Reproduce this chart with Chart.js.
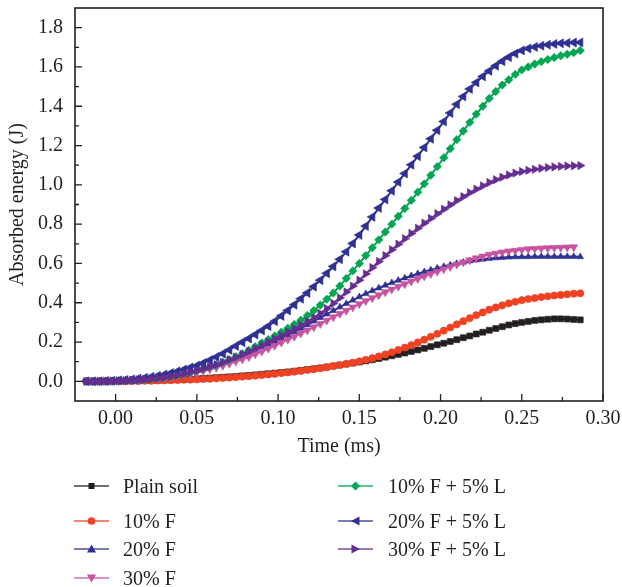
<!DOCTYPE html>
<html><head><meta charset="utf-8">
<script src="https://cdn.jsdelivr.net/npm/chart.js@4/dist/chart.umd.min.js"></script>
<style>
body{margin:0;background:#fff;}
#wrap{position:relative;width:622px;height:587px;}
#legend{position:absolute;left:0;top:0;width:622px;height:587px;pointer-events:none;font-family:"Liberation Serif","DejaVu Serif",serif;font-size:20px;color:#231f20;}
.sw{position:absolute;width:36px;height:20px;}
.lt{position:absolute;height:24px;line-height:24px;white-space:nowrap;}
</style></head>
<body><div id="wrap"><canvas id="c"></canvas><div id="legend"></div></div>
<script>
const time = [-0.018,-0.014,-0.010,-0.006,-0.002,0.002,0.006,0.010,0.014,0.018,0.022,0.026,0.030,0.034,0.038,0.042,0.046,0.050,0.054,0.058,0.062,0.066,0.070,0.074,0.078,0.082,0.086,0.090,0.094,0.098,0.102,0.106,0.110,0.114,0.118,0.122,0.126,0.130,0.134,0.138,0.142,0.146,0.150,0.154,0.158,0.162,0.166,0.170,0.174,0.178,0.182,0.186,0.190,0.194,0.198,0.202,0.206,0.210,0.214,0.218,0.222,0.226,0.230,0.234,0.238,0.242,0.246,0.250,0.254,0.258,0.262,0.266,0.270,0.274,0.278,0.282,0.286];

const plainSoil = [0,0,0,0,0.001,0.001,0.002,0.002,0.003,0.004,0.004,0.005,0.006,0.007,0.008,0.010,0.011,0.013,0.015,0.017,0.019,0.021,0.023,0.025,0.028,0.030,0.033,0.036,0.039,0.042,0.045,0.048,0.052,0.056,0.060,0.064,0.068,0.073,0.078,0.083,0.088,0.093,0.098,0.104,0.110,0.116,0.123,0.130,0.137,0.144,0.152,0.160,0.168,0.177,0.186,0.194,0.203,0.212,0.222,0.231,0.241,0.250,0.260,0.269,0.278,0.287,0.294,0.300,0.305,0.310,0.313,0.316,0.318,0.318,0.317,0.315,0.313];

const f10 = [0,0,0,0,0.001,0.001,0.001,0.002,0.002,0.003,0.003,0.004,0.005,0.006,0.007,0.008,0.009,0.010,0.012,0.013,0.015,0.017,0.019,0.021,0.024,0.026,0.029,0.032,0.035,0.038,0.042,0.045,0.049,0.053,0.058,0.062,0.067,0.072,0.078,0.083,0.089,0.095,0.102,0.110,0.118,0.127,0.137,0.148,0.160,0.172,0.184,0.198,0.212,0.227,0.242,0.258,0.274,0.290,0.306,0.322,0.337,0.351,0.365,0.376,0.387,0.397,0.405,0.413,0.419,0.424,0.429,0.433,0.437,0.440,0.443,0.446,0.448];

const f20 = [0,0,0,0.001,0.002,0.003,0.004,0.006,0.009,0.012,0.015,0.019,0.023,0.028,0.034,0.040,0.047,0.055,0.064,0.074,0.085,0.096,0.108,0.120,0.133,0.147,0.161,0.175,0.189,0.203,0.218,0.235,0.252,0.270,0.288,0.306,0.324,0.342,0.360,0.378,0.396,0.413,0.430,0.446,0.461,0.475,0.489,0.502,0.514,0.526,0.537,0.548,0.558,0.567,0.576,0.584,0.592,0.600,0.606,0.612,0.617,0.621,0.625,0.628,0.630,0.632,0.633,0.634,0.634,0.635,0.635,0.635,0.635,0.635,0.635,0.635,0.634];

const f30 = [0,0,0,0,0.001,0.002,0.003,0.005,0.007,0.009,0.011,0.014,0.018,0.022,0.027,0.033,0.039,0.046,0.054,0.062,0.070,0.080,0.090,0.101,0.112,0.124,0.138,0.152,0.167,0.182,0.198,0.213,0.228,0.244,0.260,0.276,0.293,0.310,0.327,0.344,0.360,0.377,0.393,0.409,0.424,0.439,0.454,0.468,0.482,0.495,0.509,0.522,0.535,0.547,0.559,0.571,0.583,0.595,0.606,0.617,0.627,0.636,0.645,0.651,0.657,0.662,0.666,0.670,0.673,0.675,0.677,0.678,0.680,0.681,0.682,0.683,null];

const f10L5 = [0,0,0,0.001,0.002,0.003,0.004,0.006,0.008,0.010,0.013,0.016,0.020,0.025,0.031,0.038,0.046,0.055,0.064,0.074,0.085,0.097,0.110,0.125,0.141,0.158,0.176,0.195,0.213,0.231,0.250,0.270,0.290,0.311,0.335,0.360,0.388,0.418,0.450,0.485,0.524,0.562,0.600,0.640,0.680,0.720,0.760,0.800,0.840,0.880,0.921,0.963,1.005,1.049,1.093,1.138,1.184,1.230,1.274,1.318,1.360,1.400,1.440,1.475,1.508,1.535,1.562,1.585,1.600,1.615,1.627,1.638,1.648,1.657,1.665,1.673,1.684];

const f20L5 = [0,0,0.001,0.002,0.003,0.005,0.007,0.010,0.014,0.018,0.023,0.028,0.035,0.042,0.051,0.060,0.070,0.080,0.093,0.108,0.124,0.141,0.160,0.180,0.199,0.218,0.238,0.259,0.281,0.306,0.333,0.361,0.390,0.420,0.450,0.482,0.515,0.550,0.585,0.621,0.660,0.702,0.745,0.790,0.837,0.882,0.926,0.970,1.014,1.058,1.102,1.146,1.190,1.234,1.278,1.322,1.366,1.410,1.450,1.488,1.521,1.552,1.580,1.606,1.629,1.650,1.668,1.684,1.694,1.702,1.708,1.713,1.717,1.720,1.722,1.724,1.725];

const f30L5 = [0,0,0,0.001,0.002,0.003,0.004,0.006,0.008,0.010,0.013,0.016,0.020,0.025,0.031,0.038,0.046,0.055,0.064,0.074,0.085,0.097,0.110,0.123,0.137,0.152,0.168,0.185,0.201,0.217,0.234,0.251,0.268,0.286,0.305,0.325,0.346,0.370,0.397,0.425,0.455,0.485,0.515,0.547,0.579,0.610,0.640,0.670,0.698,0.726,0.753,0.779,0.805,0.829,0.853,0.876,0.898,0.920,0.940,0.960,0.978,0.995,1.012,1.026,1.039,1.050,1.060,1.068,1.074,1.079,1.084,1.088,1.091,1.094,1.096,1.097,1.098];

const seriesNames = ['Plain soil','10% F','20% F','30% F','10% F + 5% L','20% F + 5% L','30% F + 5% L'];
const seriesValues = [plainSoil, f10, f20, f30, f10L5, f20L5, f30L5];

const xTickValues = [0, 0.05, 0.10, 0.15, 0.20, 0.25, 0.30];
const xTickLabels = ['0.00','0.05','0.10','0.15','0.20','0.25','0.30'];
const xMinorTicks = [0.025, 0.075, 0.125, 0.175, 0.225, 0.275];
const yTickValues = [0, 0.2, 0.4, 0.6, 0.8, 1.0, 1.2, 1.4, 1.6, 1.8];
const yTickLabels = ['0.0','0.2','0.4','0.6','0.8','1.0','1.2','1.4','1.6','1.8'];
const yMinorTicks = [0.1, 0.3, 0.5, 0.7, 0.9, 1.1, 1.3, 1.5, 1.7];

// styles
const colors = ['#231f20','#ef4123','#2e3192','#c7529f','#00a651','#2e3192','#662d91'];
const shapes = ['rect','circle','triangle','triangle','rectRot','triangle','triangle'];
const rotations = [0,0,0,180,0,270,90];
const radii = [4.2,3.6,3.8,4.6,4.2,5.2,4.8];

const FONT = '"Liberation Serif","DejaVu Serif",serif';
const INK = '#231f20';

const datasets = seriesValues.map((vals, i) => ({
  label: seriesNames[i],
  data: time.map((t, k) => ({x: t, y: vals[k]})).filter(p => p.y !== null),
  borderColor: colors[i],
  backgroundColor: colors[i],
  borderWidth: 2,
  pointStyle: shapes[i],
  pointRotation: rotations[i],
  pointRadius: radii[i],
  pointBorderWidth: 0.6,
  pointBorderColor: colors[i],
  pointBackgroundColor: colors[i],
  tension: 0,
  order: 7 - i
}));

const framePlugin = {
  id: 'frame',
  afterDraw(chart) {
    const {ctx, chartArea: {left, right, top, bottom}, scales: {x, y}} = chart;
    ctx.save();
    ctx.strokeStyle = INK;
    ctx.lineWidth = 1.6;
    ctx.strokeRect(left, top, right - left, bottom - top);
    ctx.beginPath();
    xTickValues.forEach(v => { const p = x.getPixelForValue(v); ctx.moveTo(p, bottom); ctx.lineTo(p, bottom - 7); });
    xMinorTicks.forEach(v => { const p = x.getPixelForValue(v); ctx.moveTo(p, bottom); ctx.lineTo(p, bottom - 4); });
    yTickValues.forEach(v => { const p = y.getPixelForValue(v); ctx.moveTo(left, p); ctx.lineTo(left + 7, p); });
    yMinorTicks.forEach(v => { const p = y.getPixelForValue(v); ctx.moveTo(left, p); ctx.lineTo(left + 4, p); });
    ctx.lineWidth = 1.3;
    ctx.stroke();
    ctx.restore();
  }
};

new Chart(document.getElementById('c'), {
  type: 'line',
  data: {datasets},
  options: {
    responsive: true,
    maintainAspectRatio: false,
    animation: false,
    layout: {padding: {left: 0, right: 19, top: 8, bottom: 126}},
    plugins: {legend: {display: false}, tooltip: {enabled: false}},
    scales: {
      x: {
        type: 'linear', min: -0.025, max: 0.30,
        afterBuildTicks: s => { s.ticks = xTickValues.map(v => ({value: v})); },
        afterFit: s => { s.height = 60; s.paddingLeft = 0; s.paddingRight = 0; },
        ticks: {callback: (v, i) => xTickLabels[i], font: {family: FONT, size: 20}, color: INK, padding: 6, maxRotation: 0, autoSkip: false},
        grid: {display: false, drawTicks: false},
        border: {display: false},
        title: {display: true, text: 'Time (ms)', font: {family: FONT, size: 20}, color: INK, padding: {top: 0, bottom: 2}}
      },
      y: {
        type: 'linear', min: -0.1, max: 1.9,
        afterBuildTicks: s => { s.ticks = yTickValues.map(v => ({value: v})); },
        afterFit: s => { s.width = 75; s.paddingTop = 0; s.paddingBottom = 0; },
        ticks: {callback: (v, i) => yTickLabels[i], font: {family: FONT, size: 20}, color: INK, padding: 12},
        grid: {display: false, drawTicks: false},
        border: {display: false},
        title: {display: true, text: 'Absorbed energy (J)', font: {family: FONT, size: 20}, color: INK, padding: {top: 6, bottom: 0}}
      }
    }
  },
  plugins: [framePlugin]
});

// HTML legend
const legendPos = [
  {sx: 74, tx: 123, cy: 486},
  {sx: 74, tx: 123, cy: 521},
  {sx: 74, tx: 123, cy: 549},
  {sx: 74, tx: 123, cy: 578},
  {sx: 338, tx: 388, cy: 486},
  {sx: 338, tx: 388, cy: 521},
  {sx: 338, tx: 388, cy: 549}
];
function markerSvg(i) {
  const c = colors[i];
  let m = '';
  switch (i) {
    case 0: m = `<rect x="14.5" y="7" width="6" height="6" fill="${c}"/>`; break;
    case 1: m = `<circle cx="17.5" cy="10" r="3.8" fill="${c}"/>`; break;
    case 2: m = `<polygon points="17.5,5.5 22,13.5 13,13.5" fill="${c}"/>`; break;
    case 3: m = `<polygon points="17.5,14.5 22,6.5 13,6.5" fill="${c}"/>`; break;
    case 4: m = `<polygon points="17.5,5.5 22,10 17.5,14.5 13,10" fill="${c}"/>`; break;
    case 5: m = `<polygon points="13,10 21.5,5.5 21.5,14.5" fill="${c}"/>`; break;
    case 6: m = `<polygon points="22,10 13.5,5.5 13.5,14.5" fill="${c}"/>`; break;
  }
  return `<svg width="36" height="20" viewBox="0 0 36 20"><line x1="0" y1="10" x2="35" y2="10" stroke="${c}" stroke-width="1.5" stroke-opacity="0.85"/>${m}</svg>`;
}
const lg = document.getElementById('legend');
seriesNames.forEach((name, i) => {
  const p = legendPos[i];
  const sw = document.createElement('div');
  sw.className = 'sw';
  sw.style.left = p.sx + 'px';
  sw.style.top = (p.cy - 10) + 'px';
  sw.innerHTML = markerSvg(i);
  lg.appendChild(sw);
  const t = document.createElement('div');
  t.className = 'lt';
  t.style.left = p.tx + 'px';
  t.style.top = (p.cy - 12) + 'px';
  t.textContent = name;
  lg.appendChild(t);
});
</script>
</body></html>
